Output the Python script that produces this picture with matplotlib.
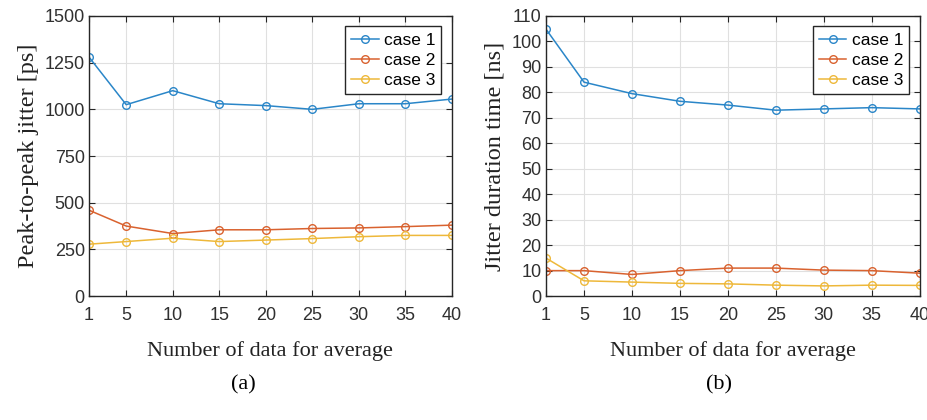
import matplotlib.pyplot as plt
import numpy as np

x = [1, 5, 10, 15, 20, 25, 30, 35, 40]

# (a) peak-to-peak jitter [ps]
pp_case1 = [1280, 1025, 1100, 1030, 1020, 1000, 1030, 1030, 1055]
pp_case2 = [460, 375, 335, 355, 355, 362, 365, 372, 380]
pp_case3 = [278, 292, 310, 292, 300, 308, 318, 325, 325]

# (b) jitter duration time [ns]
dur_case1 = [105, 84, 79.5, 76.5, 75, 73, 73.5, 74, 73.5]
dur_case2 = [10, 10, 8.5, 10, 11, 11, 10.2, 10, 9]
dur_case3 = [15, 6, 5.5, 5, 4.8, 4.3, 4, 4.3, 4.2]

labels = ["case 1", "case 2", "case 3"]
colors = ["#2a86c8", "#d9622f", "#eeb83a"]

sans = "Liberation Sans"
serif = "Liberation Serif"

fig = plt.figure(figsize=(9.28, 4.2), dpi=100)
ax1 = fig.add_axes([0.0959, 0.295, 0.391, 0.667])
ax2 = fig.add_axes([0.588, 0.295, 0.403, 0.667])


def draw(ax, series, yticks, ylabel):
    for y, c, lab in zip(series, colors, labels):
        ax.plot(x, y, "-o", color=c, markerfacecolor="none", markersize=5.5,
                linewidth=1.1, markeredgewidth=1.0, label=lab)
    ax.set_xlim(1, 40)
    ax.set_xticks(x)
    ax.set_ylim(yticks[0], yticks[-1])
    ax.set_yticks(yticks)
    ax.grid(color="#e0e0e0", linewidth=0.8)
    ax.set_axisbelow(True)
    for s in ax.spines.values():
        s.set_color("#262626")
        s.set_linewidth(1.0)
    ax.tick_params(direction="in", length=4, colors="#262626", labelsize=13,
                   top=True, right=True)
    for t in ax.get_xticklabels() + ax.get_yticklabels():
        t.set_fontfamily(sans)
        t.set_color("#303030")
    ax.tick_params(axis="x", pad=8)
    ax.tick_params(axis="y", pad=3)
    ax.set_xlabel("Number of data for average", fontfamily=serif, fontsize=16,
                  color="#222222", labelpad=12)
    ax.set_ylabel(ylabel, fontfamily=serif, fontsize=17.5, color="#222222",
                  labelpad=4)
    leg = ax.legend(loc="upper right", prop={"family": sans, "size": 12.5},
                    handlelength=1.6, handletextpad=0.3, borderpad=0.35,
                    labelspacing=0.3, fancybox=False, framealpha=1,
                    borderaxespad=0.6)
    leg.get_frame().set_edgecolor("#262626")
    leg.get_frame().set_linewidth(1.0)


draw(ax1, [pp_case1, pp_case2, pp_case3], np.arange(0, 1501, 250),
     "Peak-to-peak jitter [ps]")
draw(ax2, [dur_case1, dur_case2, dur_case3], np.arange(0, 111, 10),
     "Jitter duration time [ns]")

fig.text(0.262, 0.083, "(a)", fontfamily=serif, fontsize=16, ha="center", va="center")
fig.text(0.775, 0.083, "(b)", fontfamily=serif, fontsize=16, ha="center", va="center")

fig.savefig("out.png", dpi=100)
